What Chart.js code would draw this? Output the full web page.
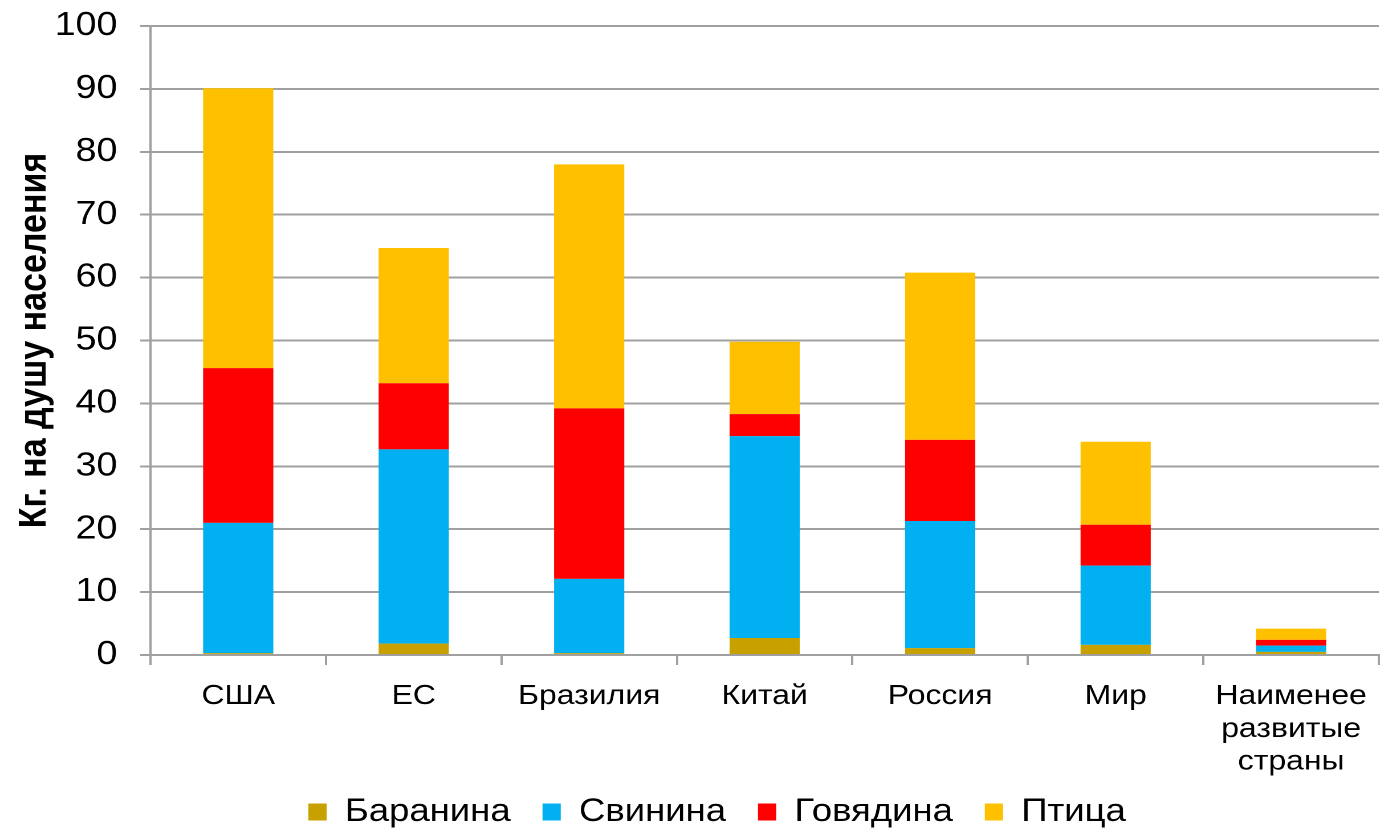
<!DOCTYPE html>
<html>
<head>
<meta charset="utf-8">
<script src="https://cdn.jsdelivr.net/npm/chart.js@4"></script>
<style>
  html, body { margin: 0; padding: 0; background: #fff; overflow: hidden; }
  /* the reference is stretched sideways, so the chart is drawn narrower and widened */
  #wrap { width: 1214px; height: 833px; transform: scaleX(1.1400); transform-origin: 0 0; }
</style>
</head>
<body>
<div id="wrap"><canvas id="meatChart" width="1214" height="833"></canvas></div>
<script>
// Data
const countries = ['США', 'ЕС', 'Бразилия', 'Китай', 'Россия', 'Мир', ['Наименее', 'развитые', 'страны']];
const mutton  = [0.3, 1.8, 0.3, 2.7, 1.1, 1.6, 0.5];
const pork    = [20.7, 30.9, 11.8, 32.1, 20.2, 12.6, 1.0];
const beef    = [24.6, 10.5, 27.1, 3.5, 12.9, 6.5, 0.9];
const poultry = [44.5, 21.5, 38.8, 11.5, 26.6, 13.2, 1.8];
const yTicks  = [0, 10, 20, 30, 40, 50, 60, 70, 80, 90, 100];

Chart.defaults.font.family = '"Liberation Sans", Arial, sans-serif';
Chart.defaults.color = '#000';

const gridGray = '#a0a0a0';

// small layout tweaks: legend a bit right of centre, and let the
// three-line category label run past the axis box without clipping
const layoutTweaks = {
    id: 'layoutTweaks',
    afterLayout(chart) {
        chart.legend.left += 22;
        chart.legend.right += 22;
        chart.scales.x.bottom += 30;
    }
};

const ctx = document.getElementById('meatChart').getContext('2d');
const meatChart = new Chart(ctx, {
    type: 'bar',
    data: {
        labels: countries,
        datasets: [
            { label: 'Баранина', data: mutton,  backgroundColor: '#C8A000' },
            { label: 'Свинина',  data: pork,    backgroundColor: '#00B0F0' },
            { label: 'Говядина', data: beef,    backgroundColor: '#FF0000' },
            { label: 'Птица',    data: poultry, backgroundColor: '#FFC000' }
        ]
    },
    options: {
        responsive: false,
        devicePixelRatio: 2,
        animation: false,
        layout: { padding: { top: 26, right: 0, left: 0, bottom: -5 } },
        datasets: { bar: { categoryPercentage: 1.0, barPercentage: 0.4 } },
        scales: {
            x: {
                stacked: true,
                grid: { drawOnChartArea: false, color: gridGray, lineWidth: 2, tickLength: 10, offset: true },
                border: { color: gridGray, width: 2 },
                ticks: { font: { size: 28, lineHeight: 1.17 }, padding: 15, maxRotation: 0, autoSkip: false },
                afterFit: (scale) => { scale.height = 113; }
            },
            y: {
                stacked: true,
                min: 0,
                max: 100,
                afterBuildTicks: (scale) => { scale.ticks = yTicks.map(v => ({ value: v })); },
                grid: { color: gridGray, lineWidth: 2, tickLength: 9 },
                border: { color: gridGray, width: 2 },
                ticks: { font: { size: 33 }, padding: 20 },
                title: {
                    display: true,
                    text: 'Кг. на душу населения',
                    font: { size: 34, weight: 'bold' },
                    padding: { top: 10, bottom: 0 }
                },
                afterFit: (scale) => {
                    scale.width = 132;
                    scale.paddingTop = 0;
                    scale.paddingBottom = 0;
                }
            }
        },
        plugins: {
            legend: {
                position: 'bottom',
                labels: {
                    font: { size: 32 },
                    boxWidth: 16,
                    boxHeight: 17,
                    padding: 28,
                    color: '#000'
                }
            },
            tooltip: { enabled: false }
        }
    },
    plugins: [layoutTweaks]
});
</script>
</body>
</html>
